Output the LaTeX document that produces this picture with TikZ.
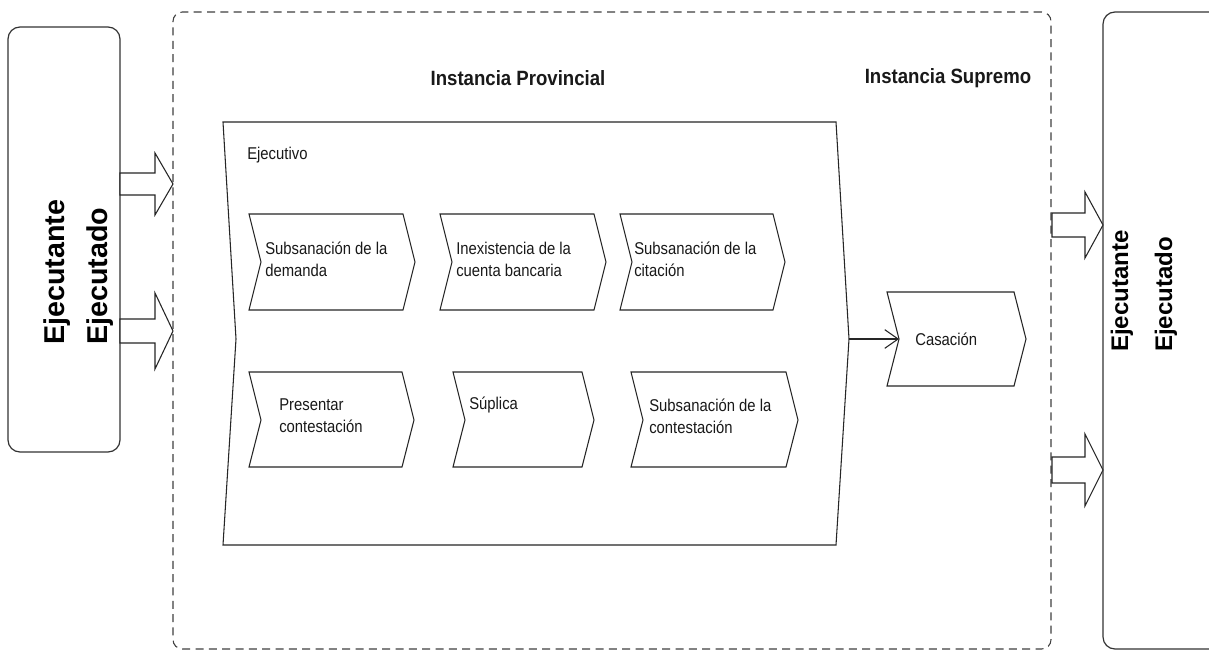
\documentclass[tikz,border=0pt]{standalone}
\usepackage{fontspec}
\setmainfont{Liberation Sans}
\usetikzlibrary{arrows.meta,fit}

% slightly condensed text line
\newcommand{\nr}[1]{\scalebox{0.87}[1]{#1}}

% chevron step: name, left x, right x (top corners), top y, bottom y, depth, middle y
\newcommand{\chevron}[7]{%
  \draw[chev] (#2,#4) -- (#3,#4) -- ({#3+#6},#7) -- (#3,#5) -- (#2,#5) -- ({#2+#6},#7) -- cycle;
  \coordinate (#1-tip) at ({#3+#6},#7);
  \coordinate (#1-notch) at ({#2+#6},#7);
}

% block arrow: start x, head base x, tip x, centre y, shaft half height, head half height
\newcommand{\blockarrow}[6]{%
  \draw[blk] (#1,{#4-#5}) -- (#2,{#4-#5}) -- (#2,{#4-#6}) -- (#3,#4)
    -- (#2,{#4+#6}) -- (#2,{#4+#5}) -- (#1,{#4+#5}) -- cycle;
}

\begin{document}
\begin{tikzpicture}[x=0.75pt,y=-0.75pt,
  line join=miter,
  actorbox/.style={draw=black!80, line width=0.9pt, rounded corners=9pt, inner sep=0pt},
  instbox/.style={draw=black!75, line width=0.8pt, dash pattern=on 6pt off 4pt, rounded corners=7pt, inner sep=0pt},
  chev/.style={draw=black!85, line width=0.8pt, fill=white},
  blk/.style={draw=black!85, line width=0.8pt, fill=white},
  link/.style={draw=black!85, line width=0.8pt, -{Straight Barb[length=10pt,width=14pt]}},
  steptext/.style={font=\fontsize{12.8}{16.5}\selectfont, align=left, inner sep=0pt, anchor=west, text=black!90},
  heading/.style={font=\fontsize{15.5}{18}\selectfont\bfseries, inner sep=0pt, text=black!90},
  actortext/.style={font=\bfseries, inner sep=0pt, rotate=90, anchor=west, text=black}
]
\fill[white] (0,0) rectangle (1209,652);
\useasboundingbox (0,0) rectangle (1209,652);

% court instances (dashed frame)
\node[instbox, fit={(173,12)(1051,649)}] (inst) {};
\node[heading] (hprov) at (518,78) {\scalebox{0.9}[1]{Instancia Provincial}};
\node[heading] (hsup) at (948,78) {\scalebox{0.9}[1]{Instancia Supremo}};

% parties, left and right
\node[actorbox, fit={(8,27)(120,452)}] (partl) {};
\node[actorbox, fit={(1103,12)(1222,649)}] (partr) {};
\node[actortext, font=\fontsize{21.5}{24}\selectfont\bfseries] (ejl1) at (57,345) {Ejecutante};
\node[actortext, font=\fontsize{21.5}{24}\selectfont\bfseries] (ejl2) at (100,345) {Ejecutado};
\node[actortext, font=\fontsize{18}{20}\selectfont\bfseries] (ejr1) at (1122,352) {Ejecutante};
\node[actortext, font=\fontsize{18}{20}\selectfont\bfseries] (ejr2) at (1166,352) {Ejecutado};

% block arrows into and out of the instances
\blockarrow{120}{155}{173}{184}{11}{31}
\blockarrow{120}{155}{173}{331}{12}{38}
\blockarrow{1052}{1085}{1103}{225}{12}{33}
\blockarrow{1052}{1085}{1103}{470}{13}{36}

% executive process
\chevron{ejec}{223}{836}{122}{545}{13}{339}
\node[steptext] (tejec) at (247,155) {\nr{Ejecutivo}};

\chevron{c1}{249}{403}{214}{310}{12}{262}
\chevron{c2}{440}{594}{214}{310}{12}{262}
\chevron{c3}{620}{773}{214}{310}{12}{262}
\chevron{c4}{249}{402}{372}{467}{12}{420}
\chevron{c5}{453}{582}{372}{467}{12}{420}
\chevron{c6}{631}{786}{372}{467}{12}{420}

\node[steptext] (t1) at (265,259) {\nr{Subsanación de la}\\\nr{demanda}};
\node[steptext] (t2) at (456,259) {\nr{Inexistencia de la}\\\nr{cuenta bancaria}};
\node[steptext] (t3) at (634,259) {\nr{Subsanación de la}\\\nr{citación}};
\node[steptext] (t4) at (279,416) {\nr{Presentar}\\\nr{contestación}};
\node[steptext] (t5) at (469,405) {\nr{Súplica}};
\node[steptext] (t6) at (649,416) {\nr{Subsanación de la}\\\nr{contestación}};

% supreme court step
\chevron{cas}{887}{1014}{292}{386}{12}{339}
\node[steptext] (tcas) at (915,339) {\nr{Casación}};

\draw[link] (ejec-tip) -- (cas-notch);
\end{tikzpicture}
\end{document}
